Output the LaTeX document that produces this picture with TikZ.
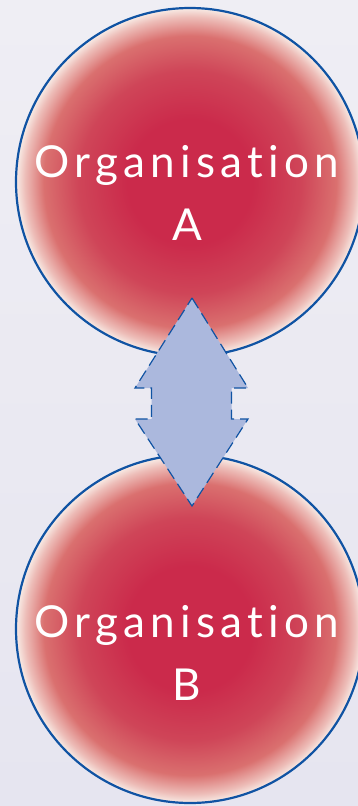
\documentclass[tikz,border=0pt]{standalone}
\usepackage{fontspec}
\newfontfamily\orgfont[LetterSpace=12, Ligatures=NoCommon]{Lato}
\definecolor{bgtop}{HTML}{EFEEF4}
\definecolor{bgbot}{HTML}{E6E5F0}
\definecolor{crim}{HTML}{CB2A4B}
\definecolor{redA}{HTML}{CF4558}
\definecolor{redB}{HTML}{DA706F}
\definecolor{redC}{HTML}{EDBDB8}
\definecolor{edgepink}{HTML}{F8ECE6}
\definecolor{blueline}{HTML}{1053A3}
\definecolor{arrowfill}{HTML}{ABB8DD}
\pgfdeclareradialshading{orgshade}{\pgfpoint{0bp}{0bp}}{color(0bp)=(crim); color(9bp)=(crim); color(16bp)=(redA); color(21bp)=(redB); color(23.7bp)=(redC); color(25bp)=(edgepink); color(100bp)=(edgepink)}
\tikzset{
  orgcircle/.style={circle, minimum size=348, inner sep=0, draw=blueline, line width=2.2, shading=orgshade},
  orglabel/.style={text=white, align=center, anchor=base, inner sep=0, font=\orgfont\fontsize{44}{63}\selectfont},
  arrowshape/.style={fill=arrowfill, draw=blueline, line width=1.2, dash pattern=on 12pt off 6pt, line join=miter}
}
\begin{document}
\begin{tikzpicture}[x=1pt, y=-1pt]
  \useasboundingbox (0,0) rectangle (358,806);
  \clip (0,0) rectangle (358,806);
  \shade[top color=bgtop, bottom color=bgbot] (0,0) rectangle (358,806);
  \node[orgcircle] (orgA) at (190,182) {};
  \node[orgcircle] (orgB) at (190,629) {};
  \node[orglabel] (labA) at (187,240) {Organisation\\A};
  \node[orglabel] (labB) at (187,700) {Organisation\\B};
  \coordinate (tipT) at (192,298);
  \coordinate (tipB) at (192,506);
  \draw[arrowshape] (tipT) -- (248,388) -- (231.5,388) -- (231.5,419) -- (248,419)
    -- (tipB) -- (135,419) -- (151.5,419) -- (151.5,388) -- (135,388) -- cycle;
\end{tikzpicture}
\end{document}
